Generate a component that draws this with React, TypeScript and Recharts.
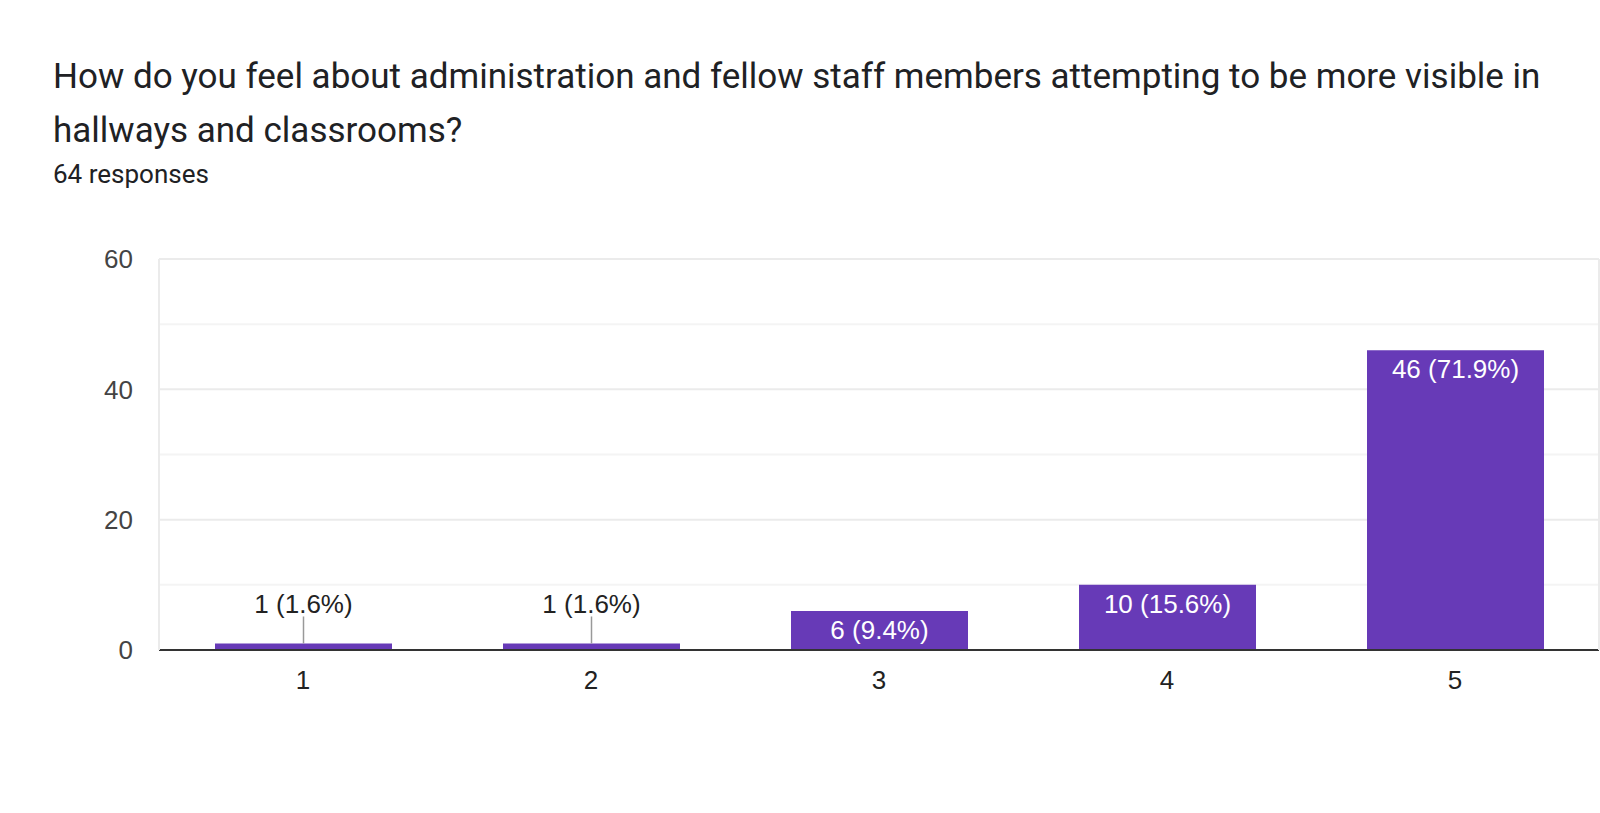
import React from "react";
import {
  BarChart,
  Bar,
  XAxis,
  YAxis,
  CartesianGrid,
  LabelList,
} from "recharts";

// Survey answers on a 1–5 scale, 64 responses in total
const answers = ["1", "2", "3", "4", "5"];
const counts = [1, 1, 6, 10, 46];
const percents = ["1.6", "1.6", "9.4", "15.6", "71.9"];
const yTicks = [0, 20, 40, 60];
const minorTicks = [10, 30, 50];

const data = answers.map((answer, i) => ({
  answer,
  count: counts[i],
  label: `${counts[i]} (${percents[i]}%)`,
}));

const PURPLE = "#673ab7";
const CHART_FONT = '"Liberation Sans", Arial, sans-serif';

/** Google Forms style: label inside the bar top, or above with a leader line when the bar is too short. */
function BarLabel(props: any) {
  const { x, y, width, height, value } = props;
  const cx = x + width / 2;
  if (height < 30) {
    return (
      <g>
        <line x1={cx} x2={cx} y1={y - 27} y2={y} stroke="#999" strokeWidth={1.5} />
        <text x={cx} y={y - 30} textAnchor="middle" fill="#222" fontSize={26} fontFamily={CHART_FONT}>
          {value}
        </text>
      </g>
    );
  }
  return (
    <text x={cx} y={y + 28} textAnchor="middle" fill="#fff" fontSize={26} fontFamily={CHART_FONT}>
      {value}
    </text>
  );
}

export default function App() {
  return (
    <div style={{ position: "absolute", left: 0, top: 0, width: 1600, height: 813, background: "#fff" }}>
      <div
        style={{
          position: "absolute",
          left: 53,
          top: 50,
          fontFamily: "Roboto, sans-serif",
          fontSize: 35,
          lineHeight: "54px",
          color: "#202124",
          whiteSpace: "nowrap",
        }}
      >
        How do you feel about administration and fellow staff members attempting to be more visible in
        <br />
        hallways and classrooms?
      </div>
      <div
        style={{
          position: "absolute",
          left: 53,
          top: 161,
          fontFamily: "Roboto, sans-serif",
          fontSize: 26,
          lineHeight: "26px",
          color: "#202124",
          whiteSpace: "nowrap",
        }}
      >
        64 responses
      </div>
      <div style={{ position: "absolute", left: 0, top: 0 }}>
        <BarChart
          width={1600}
          height={813}
          data={data}
          margin={{ top: 259, right: 0, bottom: 0, left: 0 }}
        >
          <CartesianGrid vertical={false} horizontalValues={minorTicks} stroke="#f4f4f4" strokeWidth={2} />
          <CartesianGrid vertical={false} horizontalValues={yTicks} stroke="#ebebeb" strokeWidth={2} />
          <XAxis
            dataKey="answer"
            height={163}
            tickLine={false}
            tickSize={0}
            tickMargin={21}
            axisLine={{ stroke: "#333", strokeWidth: 2 }}
            tick={{ fill: "#222", fontSize: 26, fontFamily: CHART_FONT }}
          />
          <YAxis
            width={159}
            domain={[0, 60]}
            ticks={yTicks}
            tickLine={false}
            tickSize={0}
            tickMargin={26}
            axisLine={{ stroke: "#ebebeb", strokeWidth: 2 }}
            tick={{ fill: "#444", fontSize: 26, fontFamily: CHART_FONT }}
          />
          <YAxis
            yAxisId="frame"
            orientation="right"
            width={1}
            domain={[0, 60]}
            tick={false}
            tickLine={false}
            axisLine={{ stroke: "#ebebeb", strokeWidth: 2 }}
          />
          <Bar dataKey="count" fill={PURPLE} barSize={177} isAnimationActive={false}>
            <LabelList dataKey="label" content={BarLabel} />
          </Bar>
        </BarChart>
      </div>
    </div>
  );
}
